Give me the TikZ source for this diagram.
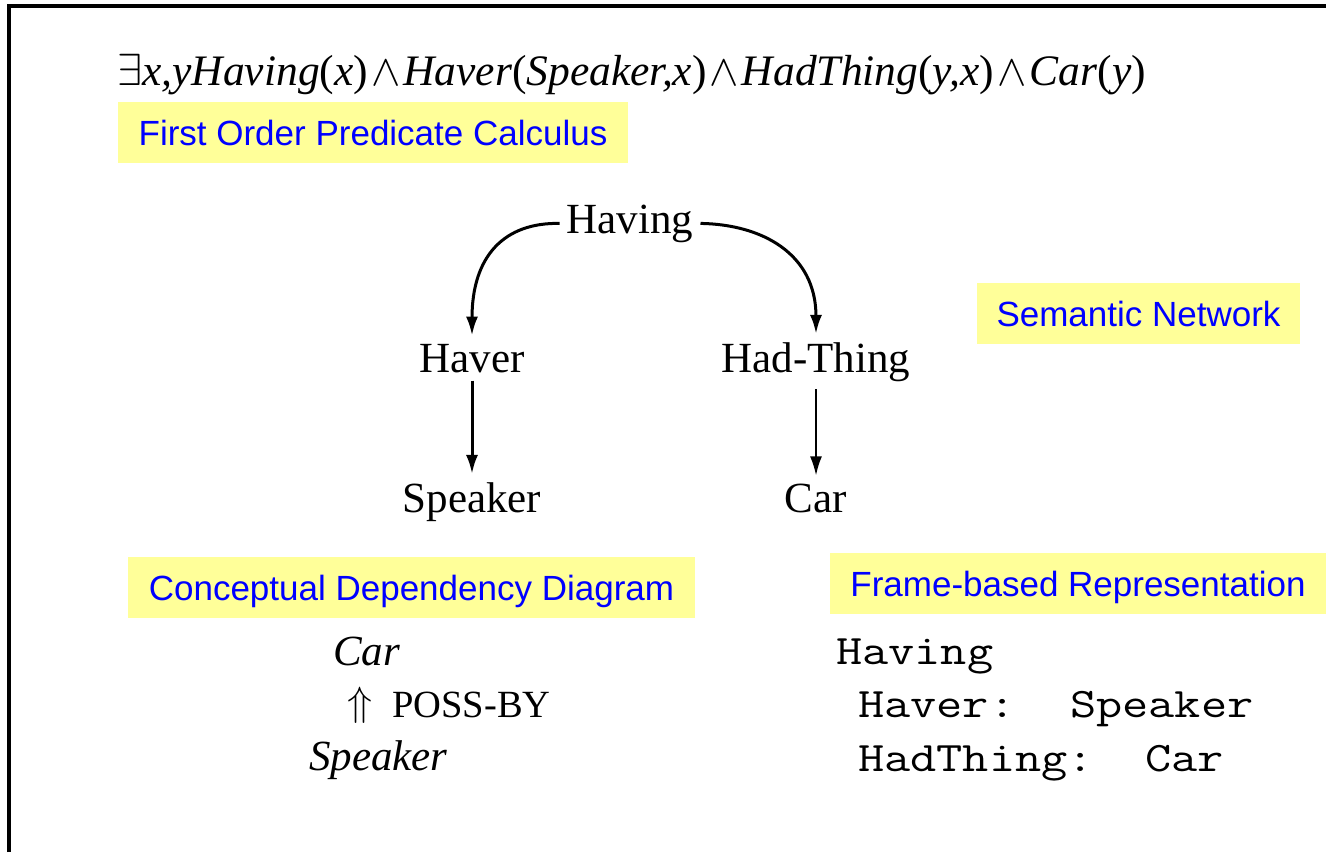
\documentclass[tikz,border=0pt]{standalone}
\usepackage{fontspec}
\usepackage{graphicx}
\setmainfont{Liberation Serif}
\newfontfamily\arialf{Liberation Sans}
\usetikzlibrary{arrows.meta}
\definecolor{lblyellow}{HTML}{FFFF99}
\definecolor{lblblue}{HTML}{0000FF}
\newcommand{\frtxt}[1]{\scalebox{1.21}[1]{#1}}
\newcommand{\bigmath}[2]{{\fontsize{10}{12}\selectfont\scalebox{#1}{$#2$}}}
\begin{document}
\begin{tikzpicture}[x=1pt,y=-1pt,
  lbl/.style={fill=lblyellow, text=lblblue, font=\arialf\fontsize{35}{40}\selectfont,
    minimum height=61pt, text height=26pt, text depth=0pt, inner sep=0pt},
  sn/.style={font=\fontsize{43}{48}\selectfont, inner xsep=7pt, inner ysep=8pt, anchor=base},
  cd/.style={font=\itshape\fontsize{43}{48}\selectfont, inner sep=0pt, anchor=base west},
  fr/.style={font=\ttfamily\fontsize{42}{48}\selectfont, inner sep=0pt, anchor=base west},
  arr/.style={-{Latex[length=19pt,width=12pt]}, line width=3pt},
  thinarr/.style={-{Latex[length=19pt,width=12pt]}, line width=1.6pt}]
\useasboundingbox (0,0) rectangle (1326,852);
\fill[white] (0,0) rectangle (1326,852);
\draw[line width=4pt, line join=miter] (8.5,852) -- (8.5,5.5) -- (1326,5.5);

% formula
\node[anchor=base west, inner sep=0pt, font=\fontsize{43.5}{50}\selectfont] (formula) at (117,85)
  {\bigmath{4.5}{\exists}\textit{x,yHaving}(\textit{x})\hspace{3pt}\bigmath{4.4}{\wedge}\hspace{3pt}\textit{Haver}(\textit{Speaker,x})\hspace{3pt}\bigmath{4.4}{\wedge}\hspace{3pt}\textit{HadThing}(\textit{y,x})\hspace{3pt}\bigmath{4.4}{\wedge}\hspace{3pt}\textit{Car}(\textit{y})};

% labels
\node[lbl, minimum width=510pt] (fopclbl) at (373,132.5) {First Order Predicate Calculus};
\node[lbl, minimum width=323pt] (snlbl) at (1138.5,313) {Semantic Network};
\node[lbl, minimum width=567pt] (cdlbl) at (411.5,587) {Conceptual Dependency Diagram};
\node[lbl, minimum width=496pt] (frlbl) at (1078,583) {Frame-based Representation};

% semantic network
\node[sn] (having) at (630,233) {Having};
\node[sn] (haver) at (472,372) {Haver};
\node[sn] (hadthing) at (816,372) {Had-Thing};
\node[sn] (speaker) at (472,512) {Speaker};
\node[sn] (car) at (816,512) {Car};
\draw[arr] (having.west) .. controls +(-55,-1) and +(0,-80) .. (haver.north);
\draw[arr] (having.east) .. controls +(62,1) and +(0,-80) .. (hadthing.north);
\draw[arr] (haver.south) -- (speaker.north);
\draw[thinarr] (hadthing.south) -- (car.north);

% conceptual dependency
\node[cd] (cdcar) at (333,665) {Car};
\node[anchor=base west, inner sep=0pt] (cdarrow) at (347,715) {\bigmath{4.1}{\Uparrow}};
\node[anchor=base west, inner sep=0pt, font=\fontsize{38.5}{42}\selectfont] (cdposs) at (392,717) {POSS-BY};
\node[cd] (cdspeaker) at (309,770) {Speaker};

% frame
\node[fr] (frhaving) at (836,664) {\frtxt{Having}};
\node[fr] (frhaver) at (858,717) {\frtxt{Haver:}};
\node[fr] (frspeaker) at (1070,717) {\frtxt{Speaker}};
\node[fr] (frhadthing) at (858,771) {\frtxt{HadThing:}};
\node[fr] (frcar) at (1145,771) {\frtxt{Car}};
\end{tikzpicture}
\end{document}
